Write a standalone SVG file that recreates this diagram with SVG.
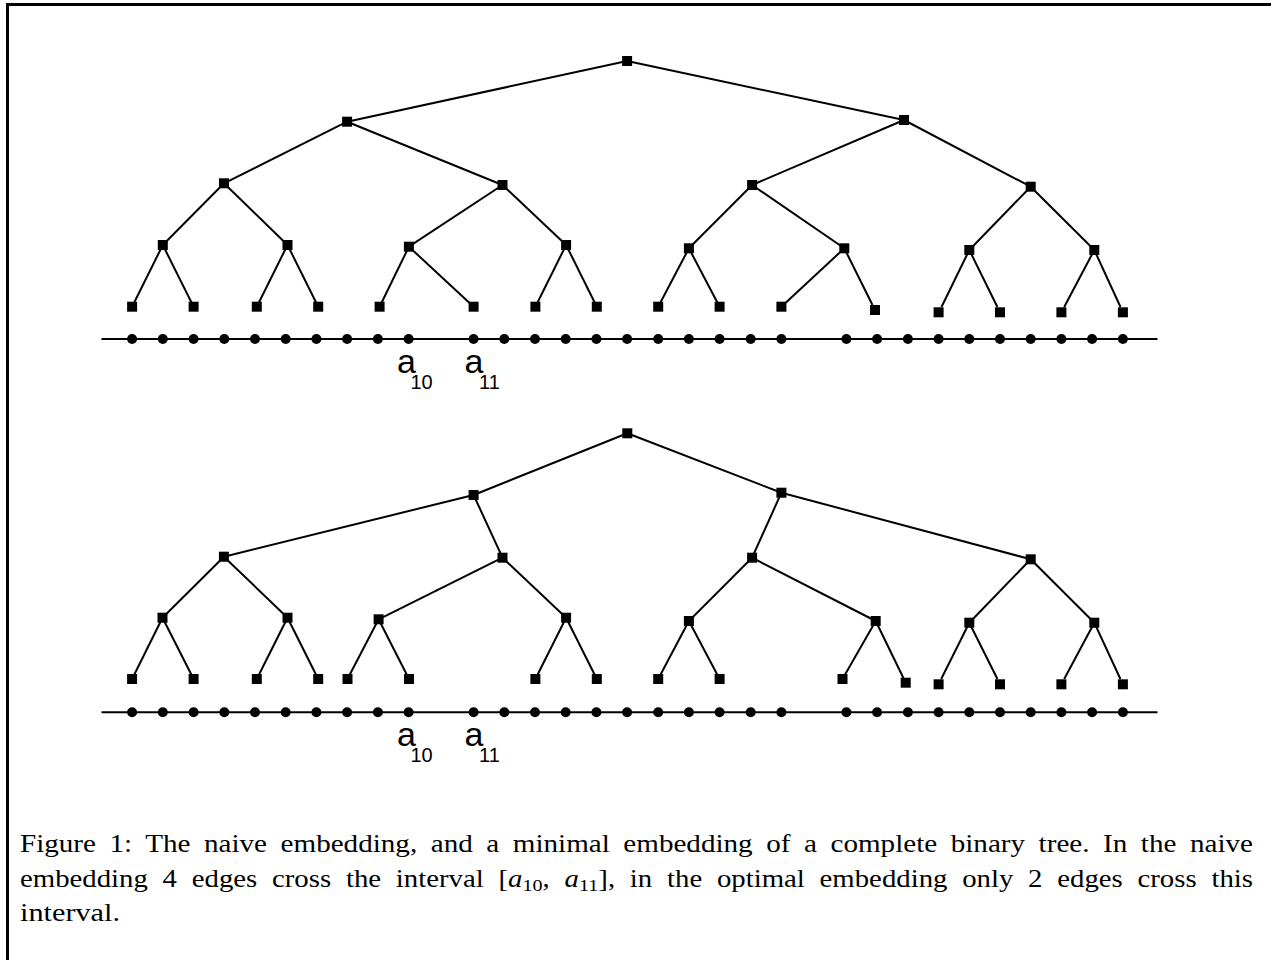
<svg xmlns="http://www.w3.org/2000/svg" width="1271" height="960" viewBox="0 0 1271 960">
<style>
.e{stroke:#000;stroke-width:2;fill:none;stroke-linecap:butt}
.ax{stroke:#000;stroke-width:2}
.lb{font-family:"Liberation Sans",Arial,sans-serif;fill:#000}
.cap{font-family:"Liberation Serif","Times New Roman",serif;font-size:25px;fill:#000}
</style>
<defs>
<rect id="sq" x="-5" y="-5" width="10" height="10" fill="#000"/>
<circle id="dot" r="5" fill="#000"/>
</defs>
<rect width="1271" height="960" fill="#fff"/>
<path d="M7.5 960V4.5H1271" stroke="#000" stroke-width="3" fill="none"/>

<g id="connectors">
<line class="e" x1="627.1" y1="61" x2="347.1" y2="121.7"/>
<line class="e" x1="627.1" y1="61" x2="904" y2="120"/>
<line class="e" x1="347.1" y1="121.7" x2="224" y2="183.3"/>
<line class="e" x1="347.1" y1="121.7" x2="502.5" y2="185"/>
<line class="e" x1="904" y1="120" x2="752.1" y2="185"/>
<line class="e" x1="904" y1="120" x2="1030.7" y2="186.7"/>
<line class="e" x1="224" y1="183.3" x2="162.8" y2="245"/>
<line class="e" x1="224" y1="183.3" x2="287.5" y2="245"/>
<line class="e" x1="502.5" y1="185" x2="408.9" y2="246.7"/>
<line class="e" x1="502.5" y1="185" x2="566.1" y2="245"/>
<line class="e" x1="752.1" y1="185" x2="688.9" y2="248.3"/>
<line class="e" x1="752.1" y1="185" x2="844.3" y2="248.3"/>
<line class="e" x1="1030.7" y1="186.7" x2="969.3" y2="250"/>
<line class="e" x1="1030.7" y1="186.7" x2="1094.3" y2="250"/>
<line class="e" x1="162.8" y1="245" x2="132.1" y2="306.7"/>
<line class="e" x1="162.8" y1="245" x2="193.6" y2="306.7"/>
<line class="e" x1="287.5" y1="245" x2="256.8" y2="306.7"/>
<line class="e" x1="287.5" y1="245" x2="318.2" y2="306.7"/>
<line class="e" x1="408.9" y1="246.7" x2="379.6" y2="306.7"/>
<line class="e" x1="408.9" y1="246.7" x2="473.6" y2="306.7"/>
<line class="e" x1="566.1" y1="245" x2="535.4" y2="306.7"/>
<line class="e" x1="566.1" y1="245" x2="596.8" y2="306.7"/>
<line class="e" x1="688.9" y1="248.3" x2="658.2" y2="306.7"/>
<line class="e" x1="688.9" y1="248.3" x2="719.6" y2="306.7"/>
<line class="e" x1="844.3" y1="248.3" x2="781.4" y2="306.7"/>
<line class="e" x1="844.3" y1="248.3" x2="872.5" y2="305"/>
<line class="e" x1="969.3" y1="250" x2="941.5" y2="307"/>
<line class="e" x1="969.3" y1="250" x2="997.4" y2="307"/>
<line class="e" x1="1094.3" y1="250" x2="1064.2" y2="307"/>
<line class="e" x1="1094.3" y1="250" x2="1120.5" y2="307"/>
<line class="e" x1="627.3" y1="433.3" x2="473.6" y2="495"/>
<line class="e" x1="627.3" y1="433.3" x2="781.4" y2="492.7"/>
<line class="e" x1="473.6" y1="495" x2="223.9" y2="556.7"/>
<line class="e" x1="473.6" y1="495" x2="502.5" y2="557.7"/>
<line class="e" x1="781.4" y1="492.7" x2="752.1" y2="557.7"/>
<line class="e" x1="781.4" y1="492.7" x2="1030.7" y2="559.3"/>
<line class="e" x1="223.9" y1="556.7" x2="162.5" y2="617.7"/>
<line class="e" x1="223.9" y1="556.7" x2="287.5" y2="617.7"/>
<line class="e" x1="502.5" y1="557.7" x2="378.6" y2="619.3"/>
<line class="e" x1="502.5" y1="557.7" x2="566.1" y2="617.7"/>
<line class="e" x1="752.1" y1="557.7" x2="688.9" y2="621"/>
<line class="e" x1="752.1" y1="557.7" x2="875.7" y2="621"/>
<line class="e" x1="1030.7" y1="559.3" x2="969.3" y2="622.7"/>
<line class="e" x1="1030.7" y1="559.3" x2="1094.3" y2="622.7"/>
<line class="e" x1="162.5" y1="617.7" x2="132.1" y2="679"/>
<line class="e" x1="162.5" y1="617.7" x2="193.6" y2="679"/>
<line class="e" x1="287.5" y1="617.7" x2="256.8" y2="679"/>
<line class="e" x1="287.5" y1="617.7" x2="318.2" y2="679"/>
<line class="e" x1="378.6" y1="619.3" x2="347.5" y2="679"/>
<line class="e" x1="378.6" y1="619.3" x2="409" y2="679"/>
<line class="e" x1="566.1" y1="617.7" x2="535.4" y2="679"/>
<line class="e" x1="566.1" y1="617.7" x2="596.8" y2="679"/>
<line class="e" x1="688.9" y1="621" x2="658.2" y2="679"/>
<line class="e" x1="688.9" y1="621" x2="719.6" y2="679"/>
<line class="e" x1="875.7" y1="621" x2="842.5" y2="679"/>
<line class="e" x1="875.7" y1="621" x2="903.4" y2="678"/>
<line class="e" x1="969.3" y1="622.7" x2="941.2" y2="679"/>
<line class="e" x1="969.3" y1="622.7" x2="997.4" y2="679"/>
<line class="e" x1="1094.3" y1="622.7" x2="1064.2" y2="679"/>
<line class="e" x1="1094.3" y1="622.7" x2="1120.4" y2="679"/>
</g>

<g id="top-tree">
<g id="t-root"><use href="#sq" x="627.1" y="61"/></g>
<g id="t-1a"><use href="#sq" x="347.1" y="121.7"/></g>
<g id="t-1b"><use href="#sq" x="904" y="120"/></g>
<g id="t-2a"><use href="#sq" x="224" y="183.3"/></g>
<g id="t-2b"><use href="#sq" x="502.5" y="185"/></g>
<g id="t-2c"><use href="#sq" x="752.1" y="185"/></g>
<g id="t-2d"><use href="#sq" x="1030.7" y="186.7"/></g>
<g id="t-3a"><use href="#sq" x="162.8" y="245"/></g>
<g id="t-3b"><use href="#sq" x="287.5" y="245"/></g>
<g id="t-3c"><use href="#sq" x="408.9" y="246.7"/></g>
<g id="t-3d"><use href="#sq" x="566.1" y="245"/></g>
<g id="t-3e"><use href="#sq" x="688.9" y="248.3"/></g>
<g id="t-3f"><use href="#sq" x="844.3" y="248.3"/></g>
<g id="t-3g"><use href="#sq" x="969.3" y="250"/></g>
<g id="t-3h"><use href="#sq" x="1094.3" y="250"/></g>
<g id="t-4a"><use href="#sq" x="132.1" y="306.7"/></g>
<g id="t-4b"><use href="#sq" x="193.6" y="306.7"/></g>
<g id="t-4c"><use href="#sq" x="256.8" y="306.7"/></g>
<g id="t-4d"><use href="#sq" x="318.2" y="306.7"/></g>
<g id="t-4e"><use href="#sq" x="379.6" y="306.7"/></g>
<g id="t-4f"><use href="#sq" x="473.6" y="306.7"/></g>
<g id="t-4g"><use href="#sq" x="535.4" y="306.7"/></g>
<g id="t-4h"><use href="#sq" x="596.8" y="306.7"/></g>
<g id="t-4i"><use href="#sq" x="658.2" y="306.7"/></g>
<g id="t-4j"><use href="#sq" x="719.6" y="306.7"/></g>
<g id="t-4k"><use href="#sq" x="781.4" y="306.7"/></g>
<g id="t-4l"><use href="#sq" x="875" y="310"/></g>
<g id="t-4m"><use href="#sq" x="938.6" y="312.3"/></g>
<g id="t-4n"><use href="#sq" x="1000" y="312.3"/></g>
<g id="t-4o"><use href="#sq" x="1061.4" y="312.3"/></g>
<g id="t-4p"><use href="#sq" x="1122.9" y="312.3"/></g>
</g>

<g id="bottom-tree">
<g id="b-root"><use href="#sq" x="627.3" y="433.3"/></g>
<g id="b-1a"><use href="#sq" x="473.6" y="495"/></g>
<g id="b-1b"><use href="#sq" x="781.4" y="492.7"/></g>
<g id="b-2a"><use href="#sq" x="223.9" y="556.7"/></g>
<g id="b-2b"><use href="#sq" x="502.5" y="557.7"/></g>
<g id="b-2c"><use href="#sq" x="752.1" y="557.7"/></g>
<g id="b-2d"><use href="#sq" x="1030.7" y="559.3"/></g>
<g id="b-3a"><use href="#sq" x="162.5" y="617.7"/></g>
<g id="b-3b"><use href="#sq" x="287.5" y="617.7"/></g>
<g id="b-3c"><use href="#sq" x="378.6" y="619.3"/></g>
<g id="b-3d"><use href="#sq" x="566.1" y="617.7"/></g>
<g id="b-3e"><use href="#sq" x="688.9" y="621"/></g>
<g id="b-3f"><use href="#sq" x="875.7" y="621"/></g>
<g id="b-3g"><use href="#sq" x="969.3" y="622.7"/></g>
<g id="b-3h"><use href="#sq" x="1094.3" y="622.7"/></g>
<g id="b-4a"><use href="#sq" x="132.1" y="679"/></g>
<g id="b-4b"><use href="#sq" x="193.6" y="679"/></g>
<g id="b-4c"><use href="#sq" x="256.8" y="679"/></g>
<g id="b-4d"><use href="#sq" x="318.2" y="679"/></g>
<g id="b-4e"><use href="#sq" x="347.5" y="679"/></g>
<g id="b-4f"><use href="#sq" x="409" y="679"/></g>
<g id="b-4g"><use href="#sq" x="535.4" y="679"/></g>
<g id="b-4h"><use href="#sq" x="596.8" y="679"/></g>
<g id="b-4i"><use href="#sq" x="658.2" y="679"/></g>
<g id="b-4j"><use href="#sq" x="719.6" y="679"/></g>
<g id="b-4k"><use href="#sq" x="842.5" y="679"/></g>
<g id="b-4l"><use href="#sq" x="905.7" y="682.7"/></g>
<g id="b-4m"><use href="#sq" x="938.6" y="684.3"/></g>
<g id="b-4n"><use href="#sq" x="1000" y="684.3"/></g>
<g id="b-4o"><use href="#sq" x="1061.4" y="684.3"/></g>
<g id="b-4p"><use href="#sq" x="1122.9" y="684.3"/></g>
</g>

<g id="top-axis">
<line class="ax" x1="101.5" y1="339" x2="1157.5" y2="339"/>
<use href="#dot" x="132.1" y="339"/><use href="#dot" x="162.8" y="339"/><use href="#dot" x="193.6" y="339"/><use href="#dot" x="224.3" y="339"/><use href="#dot" x="255" y="339"/><use href="#dot" x="285.7" y="339"/><use href="#dot" x="316.4" y="339"/><use href="#dot" x="347.1" y="339"/><use href="#dot" x="377.9" y="339"/><use href="#dot" x="408.6" y="339"/>
<use href="#dot" x="473.6" y="339"/><use href="#dot" x="504.3" y="339"/><use href="#dot" x="535" y="339"/><use href="#dot" x="565.7" y="339"/><use href="#dot" x="596.4" y="339"/><use href="#dot" x="627.1" y="339"/><use href="#dot" x="658.2" y="339"/><use href="#dot" x="688.9" y="339"/><use href="#dot" x="719.6" y="339"/><use href="#dot" x="750.7" y="339"/><use href="#dot" x="781.4" y="339"/>
<use href="#dot" x="846.4" y="339"/><use href="#dot" x="877.1" y="339"/><use href="#dot" x="907.9" y="339"/><use href="#dot" x="938.6" y="339"/><use href="#dot" x="969.3" y="339"/><use href="#dot" x="1000" y="339"/><use href="#dot" x="1030.7" y="339"/><use href="#dot" x="1061.4" y="339"/><use href="#dot" x="1092.1" y="339"/><use href="#dot" x="1122.9" y="339"/>
<text class="lb" x="397" y="373" font-size="34">a<tspan x="410.5" y="389" font-size="20">10</tspan></text>
<text class="lb" x="464.5" y="373" font-size="34">a<tspan x="479" y="389" font-size="20">11</tspan></text>
</g>

<g id="bottom-axis">
<line class="ax" x1="101.5" y1="712.3" x2="1157.5" y2="712.3"/>
<use href="#dot" x="132.1" y="712.3"/><use href="#dot" x="162.8" y="712.3"/><use href="#dot" x="193.6" y="712.3"/><use href="#dot" x="224.3" y="712.3"/><use href="#dot" x="255" y="712.3"/><use href="#dot" x="285.7" y="712.3"/><use href="#dot" x="316.4" y="712.3"/><use href="#dot" x="347.1" y="712.3"/><use href="#dot" x="377.9" y="712.3"/><use href="#dot" x="408.6" y="712.3"/>
<use href="#dot" x="473.6" y="712.3"/><use href="#dot" x="504.3" y="712.3"/><use href="#dot" x="535" y="712.3"/><use href="#dot" x="565.7" y="712.3"/><use href="#dot" x="596.4" y="712.3"/><use href="#dot" x="627.1" y="712.3"/><use href="#dot" x="658.2" y="712.3"/><use href="#dot" x="688.9" y="712.3"/><use href="#dot" x="719.6" y="712.3"/><use href="#dot" x="750.7" y="712.3"/><use href="#dot" x="781.4" y="712.3"/>
<use href="#dot" x="846.4" y="712.3"/><use href="#dot" x="877.1" y="712.3"/><use href="#dot" x="907.9" y="712.3"/><use href="#dot" x="938.6" y="712.3"/><use href="#dot" x="969.3" y="712.3"/><use href="#dot" x="1000" y="712.3"/><use href="#dot" x="1030.7" y="712.3"/><use href="#dot" x="1061.4" y="712.3"/><use href="#dot" x="1092.1" y="712.3"/><use href="#dot" x="1122.9" y="712.3"/>
<text class="lb" x="397" y="746" font-size="34">a<tspan x="410.5" y="762" font-size="20">10</tspan></text>
<text class="lb" x="464.5" y="746" font-size="34">a<tspan x="479" y="762" font-size="20">11</tspan></text>
</g>

<g id="caption">
<text class="cap" x="20" y="851.5" textLength="1233" lengthAdjust="spacingAndGlyphs" word-spacing="5.4">Figure 1: The naive embedding, and a minimal embedding of a complete binary tree. In the naive</text>
<text class="cap" x="20" y="886.5" textLength="1233" lengthAdjust="spacingAndGlyphs" word-spacing="6.6">embedding 4 edges cross the interval [<tspan font-style="italic">a</tspan><tspan font-size="17.5" dy="4">10</tspan><tspan dy="-4">, </tspan><tspan font-style="italic">a</tspan><tspan font-size="17.5" dy="4">11</tspan><tspan dy="-4">], in the optimal embedding only 2 edges cross this</tspan></text>
<text class="cap" x="20" y="920.5" textLength="100" lengthAdjust="spacingAndGlyphs">interval.</text>
</g>
</svg>
